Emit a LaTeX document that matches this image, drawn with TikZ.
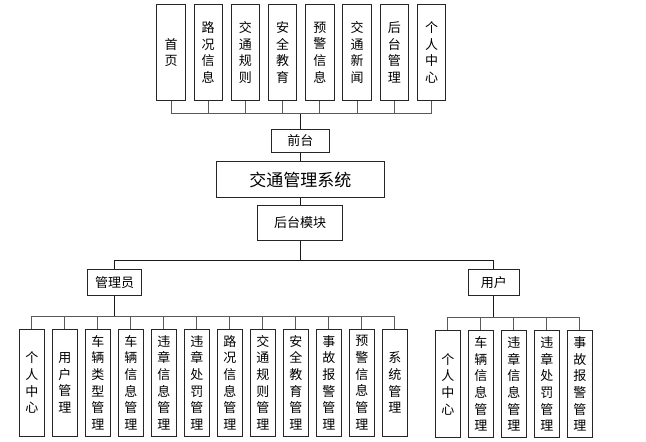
\documentclass[tikz,border=0pt]{standalone}
\usepackage{fontspec}
\setmainfont{Noto Sans CJK SC}
\begin{document}
\begin{tikzpicture}[x=1pt,y=-1pt,
  box/.style={draw=black!85,line width=0.9pt,fill=white,inner sep=0pt,align=center,font=\fontsize{13}{16.7}\selectfont},
  vbox/.style={box,minimum width=28.5pt,minimum height=95.6pt},
  lbox/.style={box,minimum width=25pt,minimum height=106.7pt},
  conn/.style={draw=black!65,line width=1pt},
  trunk/.style={draw=black!90,line width=1pt}]
\useasboundingbox (0,0) rectangle (646,442);
% top modules
\foreach \t [count=\i from 0] in {首\\页,路\\况\\信\\息,交\\通\\规\\则,安\\全\\教\\育,预\\警\\信\\息,交\\通\\新\\闻,后\\台\\管\\理,个\\人\\中\\心}{
  \node[vbox] (t\i) at ({171+37.23*\i},52.5) {\t};
}
\node[box,minimum width=57.3pt,minimum height=23pt] (qt) at (300.3,140.8) {前台};
\node[box,minimum width=168pt,minimum height=35.6pt,font=\fontsize{17}{20}\selectfont] (sys) at (300.3,179.5) {交通管理系统};
\node[box,minimum width=85.4pt,minimum height=35.4pt] (ht) at (300,223) {后台模块};
\node[box,minimum width=54pt,minimum height=26.7pt] (adm) at (114.7,282.4) {管理员};
\node[box,minimum width=51pt,minimum height=26.7pt] (usr) at (493.8,282.4) {用户};
% admin children
\foreach \t [count=\i from 0] in {个\\人\\中\\心,用\\户\\管\\理,车\\辆\\类\\型\\管\\理,车\\辆\\信\\息\\管\\理,违\\章\\信\\息\\管\\理,违\\章\\处\\罚\\管\\理,路\\况\\信\\息\\管\\理,交\\通\\规\\则\\管\\理,安\\全\\教\\育\\管\\理,事\\故\\报\\警\\管\\理,预\\警\\信\\息\\管\\理,系\\统\\管\\理}{
  \node[lbox] (a\i) at ({31.8+33*\i},382.7) {\t};
}
% user children
\foreach \t [count=\i from 0] in {个\\人\\中\\心,车\\辆\\信\\息\\管\\理,违\\章\\信\\息\\管\\理,违\\章\\处\\罚\\管\\理,事\\故\\报\\警\\管\\理}{
  \node[lbox] (u\i) at ({447.8+33*\i},384) {\t};
}
% connectors
\coordinate (tb) at (300.3,113.7);
\foreach \i in {0,...,7}{ \draw[conn] (tb) -| (t\i.south); }
\draw[trunk] (qt.north) -- (tb);
\draw[trunk] (qt.south) -- (sys.north -| qt.south);
\draw[trunk] (sys.south -| ht.north) -- (ht.north);
\coordinate (hb) at (300,260);
\draw[trunk] (ht.south) -- (hb);
\draw[trunk] (hb) -| (adm.north);
\draw[trunk] (hb) -| (usr.north);
\coordinate (ab) at (114.7,316.7);
\draw[trunk] (adm.south) -- (ab);
\foreach \i in {0,...,11}{ \draw[conn] (ab) -| (a\i.north); }
\coordinate (ub) at (493.8,317.7);
\draw[trunk] (usr.south) -- (ub);
\foreach \i in {0,...,4}{ \draw[conn] (ub) -| (u\i.north); }
\end{tikzpicture}
\end{document}
